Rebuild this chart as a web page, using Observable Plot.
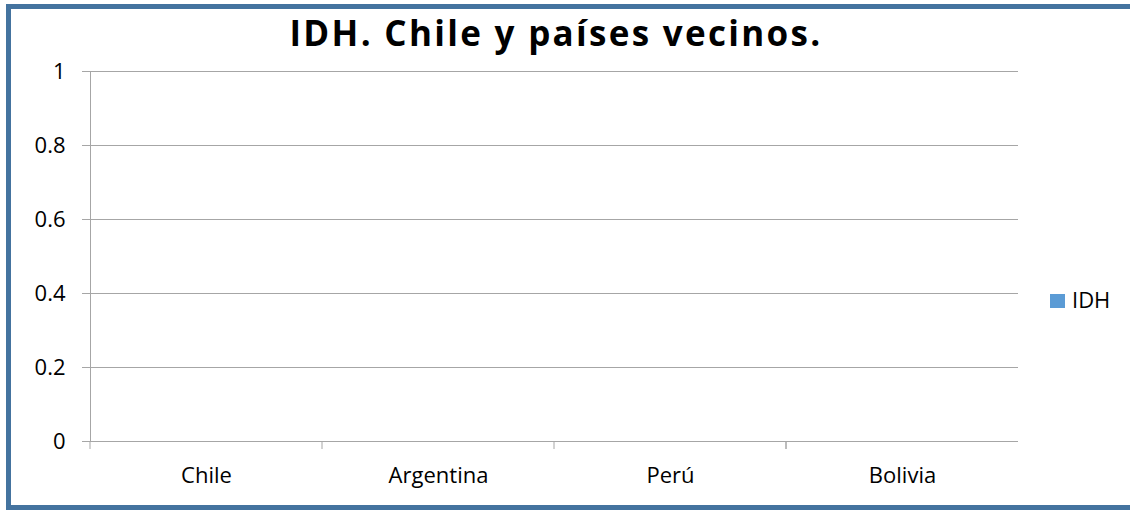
<!DOCTYPE html>
<html>
<head>
<meta charset="utf-8">
<script src="https://cdn.jsdelivr.net/npm/d3@7"></script>
<script src="https://cdn.jsdelivr.net/npm/@observablehq/plot@0.6"></script>
<style>
  html, body { margin: 0; padding: 0; background: #fff; overflow: hidden; }
  #wrap { position: relative; width: 1130px; height: 510px; overflow: hidden; font-family: "Open Sans", sans-serif; }
  #frame { position: absolute; left: 6px; top: 4px; width: 1200px; height: 506px; box-sizing: border-box; border: 5px solid #44739f; }
  #title { position: absolute; left: 0; top: 9px; width: 1112px; text-align: center; font-weight: bold; font-size: 35px; letter-spacing: 2.3px; color: #000; line-height: 48px; white-space: nowrap; }
  #chart { position: absolute; left: 0; top: 0; }
  #swatch { position: absolute; left: 1050px; top: 294px; width: 15px; height: 14px; }
  #legendText { position: absolute; left: 1072px; top: 284px; font-size: 22px; line-height: 30px; color: #000; white-space: nowrap; }
</style>
</head>
<body>
<div id="wrap">
  <div id="frame"></div>
  <div id="chart"></div>
  <div id="title"></div>
  <div id="swatch"></div>
  <div id="legendText"></div>
</div>
<script>
const titleText = "IDH. Chile y países vecinos.";
const seriesName = "IDH";
const categories = ["Chile", "Argentina", "Perú", "Bolivia"];
const values = [0, 0, 0, 0];
const yTicks = [0, 0.2, 0.4, 0.6, 0.8, 1];
const barColor = "#5b9bd5";
const gridColor = "#a6a6a6";

const data = categories.map((c, i) => ({country: c, value: values[i]}));

const width = 1130, height = 510;
const mL = 90, mR = 112, mT = 71, mB = 69;
const bw = (width - mL - mR) / categories.length;
const edges = categories.map((c, i) => ({c, dx: -bw / 2}))
  .concat([{c: categories[categories.length - 1], dx: bw / 2}]);

const plot = Plot.plot({
  width, height,
  marginLeft: mL, marginRight: mR, marginTop: mT, marginBottom: mB,
  style: {fontFamily: "'Open Sans', sans-serif", fontSize: "22px", color: "#000", background: "transparent"},
  x: {domain: categories, padding: 0, label: null},
  y: {domain: [0, 1], label: null},
  marks: [
    Plot.gridY(yTicks, {stroke: gridColor, strokeOpacity: 1, strokeWidth: 1}),
    Plot.axisY(yTicks, {tickSize: 8, tickPadding: 17, stroke: gridColor, tickFormat: d => String(d), fill: "#000", fontSize: 22}),
    Plot.ruleX([0], {x: () => categories[0], dx: -bw / 2, y1: 0, y2: 1, stroke: gridColor}),
    Plot.barY(data, {x: "country", y: "value", fill: barColor, inset: bw * 0.2}),
    Plot.ruleX(edges, {x: "c", dx: d => d.dx, y1: 0, y2: 0, insetBottom: -8, stroke: gridColor}),
    Plot.axisX({tickSize: 0, tickPadding: 26, fontSize: 22, fill: "#000"})
  ]
});
document.getElementById("chart").appendChild(plot);
document.getElementById("title").textContent = titleText;
document.getElementById("swatch").style.background = barColor;
document.getElementById("legendText").textContent = seriesName;
</script>
</body>
</html>
